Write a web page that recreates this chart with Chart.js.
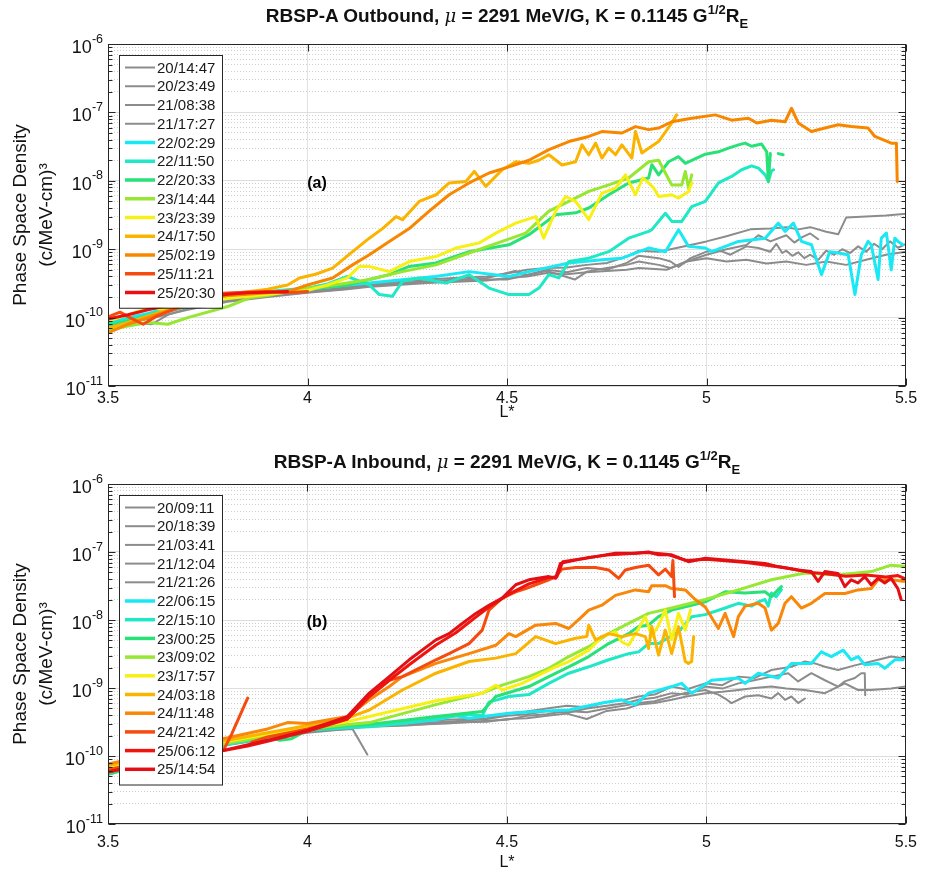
<!DOCTYPE html>
<html><head><meta charset="utf-8">
<script src="https://cdn.jsdelivr.net/npm/chart.js@4.4.1/dist/chart.umd.min.js"></script>
<style>
html,body{margin:0;padding:0;background:#fff;}
#wrap{position:relative;width:926px;height:873px;overflow:hidden;font-family:"Liberation Sans",Arial,Helvetica,sans-serif;}
canvas{position:absolute;left:0;}
.ttl{position:absolute;left:108px;width:798px;text-align:center;font-weight:bold;font-size:19px;line-height:22px;color:#111;white-space:nowrap;z-index:2;}
.ttl .mu{font-weight:normal;font-style:italic;font-family:"DejaVu Serif",serif;font-size:18px;}
.ttl sup{font-size:13px;vertical-align:8px;line-height:0;}
.ttl sub{font-size:13px;vertical-align:-6px;line-height:0;}
</style></head>
<body><div id="wrap">
<div class="ttl" style="top:5px">RBSP-A Outbound, <span class="mu">μ</span> = 2291 MeV/G, K = 0.1145 G<sup>1/2</sup>R<sub>E</sub></div>
<div class="ttl" style="top:451px">RBSP-A Inbound, <span class="mu">μ</span> = 2291 MeV/G, K = 0.1145 G<sup>1/2</sup>R<sub>E</sub></div>
<canvas id="cA" width="926" height="436" style="top:0px"></canvas>
<canvas id="cB" width="926" height="437" style="top:436px"></canvas>
</div>
<script>
// ---------- axis ticks ----------
const X_TICKS = [3.5, 4, 4.5, 5, 5.5];
const X_TICK_LABELS = ['3.5', '4', '4.5', '5', '5.5'];
const Y_DECADES = [1e-11, 1e-10, 1e-9, 1e-8, 1e-7, 1e-6];
const Y_TICK_BASE = '10';
const Y_TICK_EXP = ['-11', '-10', '-9', '-8', '-7', '-6'];
const Y_TITLE = ['Phase Space Density', '(c/MeV-cm)³'];
const X_TITLE = 'L*';

// ---------- panel (a): outbound ----------
const A_LABELS = ['20/14:47','20/23:49','21/08:38','21/17:27','22/02:29','22/11:50','22/20:33','23/14:44','23/23:39','24/17:50','25/02:19','25/11:21','25/20:30'];
const A_COLORS = ['rgb(140,140,140)','rgb(140,140,140)','rgb(140,140,140)','rgb(140,140,140)','rgb(25,232,245)','rgb(30,232,198)','rgb(40,226,120)','rgb(150,230,50)','rgb(246,240,20)','rgb(250,180,0)','rgb(248,135,0)','rgb(245,75,15)','rgb(235,15,15)'];

const A_201447 = [[3.5,8.5e-11],[3.55,9.5e-11],[3.6,1.05e-10],[3.65,1.2e-10],[3.7,1.45e-10],[3.75,1.65e-10],[3.8,1.85e-10],[3.85,2.0e-10],[3.9,2.15e-10],[3.95,2.3e-10],[4.0,2.45e-10],[4.05,2.6e-10],[4.1,2.8e-10],[4.15,3.1e-10],[4.2,3.3e-10],[4.3,3.6e-10],[4.4,3.9e-10],[4.45,4.0e-10],[4.5,4.4e-10],[4.55,5.0e-10],[4.6,5.3e-10],[4.65,5.4e-10],[4.7,5.9e-10],[4.75,6.3e-10],[4.8,7.8e-10],[4.83,9.5e-10],[4.88,9.2e-10],[4.91,1.0e-9],[4.96,1.15e-9],[5.0,1.3e-9],[5.05,1.55e-9],[5.11,1.95e-9],[5.16,2.0e-9],[5.2,2.1e-9],[5.23,1.95e-9],[5.26,2.1e-9],[5.3,1.8e-9],[5.33,1.65e-9],[5.35,2.9e-9],[5.4,3.0e-9],[5.45,3.1e-9],[5.5,3.3e-9]];
const A_202349 = [[3.5,9e-11],[3.55,1.0e-10],[3.6,1.1e-10],[3.65,1.3e-10],[3.7,1.5e-10],[3.8,1.8e-10],[3.9,2.1e-10],[4.0,2.4e-10],[4.1,2.7e-10],[4.15,3.0e-10],[4.3,3.4e-10],[4.45,3.8e-10],[4.52,4.8e-10],[4.55,4.2e-10],[4.6,5.0e-10],[4.65,4.6e-10],[4.7,5.3e-10],[4.75,5.0e-10],[4.8,6.3e-10],[4.83,8.0e-10],[4.88,7.4e-10],[4.91,6.6e-10],[4.93,5.5e-10],[4.96,7.4e-10],[5.0,9.2e-10],[5.03,9.7e-10],[5.06,8.3e-10],[5.1,1.1e-9],[5.13,1.04e-9],[5.16,9.2e-10],[5.175,1.2e-9],[5.19,8.8e-10],[5.2,9.5e-10],[5.215,8.0e-10],[5.23,9.0e-10],[5.245,7.4e-10],[5.26,8.3e-10],[5.28,7.0e-10],[5.3,9.5e-10],[5.32,8.3e-10],[5.34,1.0e-9],[5.36,8.8e-10],[5.38,1.1e-9],[5.4,9.2e-10],[5.42,1.2e-9],[5.44,1.0e-9],[5.46,1.3e-9],[5.48,1.05e-9],[5.5,1.2e-9]];
const A_210838 = [[3.5,8e-11],[3.55,8.5e-11],[3.61,8e-11],[3.65,1.1e-10],[3.7,1.35e-10],[3.8,1.75e-10],[3.9,2.05e-10],[4.0,2.35e-10],[4.1,2.65e-10],[4.15,2.9e-10],[4.3,3.3e-10],[4.45,3.6e-10],[4.5,3.6e-10],[4.55,4.2e-10],[4.6,4.8e-10],[4.67,3.6e-10],[4.7,4.7e-10],[4.75,5.3e-10],[4.8,5.9e-10],[4.83,6.6e-10],[4.88,5.9e-10],[4.91,5.3e-10],[4.95,6.6e-10],[5.0,7.4e-10],[5.05,6.6e-10],[5.1,7.0e-10],[5.15,6.2e-10],[5.2,6.6e-10],[5.25,5.9e-10],[5.3,6.6e-10],[5.35,5.9e-10],[5.4,7.0e-10],[5.45,8.3e-10],[5.5,9.2e-10]];
const A_211727 = [[3.5,7.5e-11],[3.6,9.5e-11],[3.7,1.3e-10],[3.8,1.7e-10],[3.9,2.0e-10],[4.0,2.3e-10],[4.1,2.6e-10],[4.15,2.8e-10],[4.3,3.2e-10],[4.45,3.5e-10],[4.5,3.8e-10],[4.55,4.0e-10],[4.6,4.5e-10],[4.65,4.3e-10],[4.7,4.6e-10],[4.75,4.8e-10],[4.8,5.0e-10],[4.83,5.3e-10],[4.9,5.0e-10],[4.95,6.6e-10],[5.0,8.3e-10],[5.05,1.0e-9],[5.1,1.15e-9],[5.13,1.6e-9],[5.16,1.3e-9],[5.2,1.6e-9],[5.22,1.25e-9],[5.24,1.5e-9],[5.26,1.7e-9],[5.28,1.4e-9]];
const A_220229 = [[3.5,9e-11],[3.55,1.0e-10],[3.6,1.15e-10],[3.7,1.6e-10],[3.8,2.0e-10],[3.9,2.3e-10],[4.0,2.6e-10],[4.1,3.0e-10],[4.155,3.2e-10],[4.32,4.0e-10],[4.405,4.7e-10],[4.505,4.0e-10],[4.555,4.7e-10],[4.655,6.3e-10],[4.738,7.0e-10],[4.788,7.4e-10],[4.855,1.04e-9],[4.897,9.2e-10],[4.93,1.93e-9],[4.955,1.1e-9],[4.997,1.04e-9],[5.013,9.2e-10],[5.08,1.3e-9],[5.147,1.45e-9],[5.18,2.4e-9],[5.197,1.82e-9],[5.218,2.4e-9],[5.238,1.3e-9],[5.263,1.16e-9],[5.288,4.25e-10],[5.309,9.2e-10],[5.33,8.8e-10],[5.355,8.3e-10],[5.372,2.17e-10],[5.388,8.3e-10],[5.405,1.3e-9],[5.413,1.16e-9],[5.43,3.6e-10],[5.438,1.45e-9],[5.451,1.72e-9],[5.463,5.0e-10],[5.472,1.45e-9],[5.48,1.3e-9],[5.492,1.16e-9]];
const A_221150 = [[3.5,8e-11],[3.6,1.1e-10],[3.65,1.5e-10],[3.7,1.55e-10],[3.8,2.0e-10],[3.9,2.4e-10],[4.0,2.7e-10],[4.05,3.1e-10],[4.1,4.0e-10],[4.13,3.4e-10],[4.155,3.0e-10],[4.18,2.17e-10],[4.213,2.05e-10],[4.238,3.4e-10],[4.28,3.8e-10],[4.347,3.2e-10],[4.405,4.25e-10],[4.455,2.7e-10],[4.505,2.17e-10],[4.555,2.17e-10],[4.58,2.7e-10],[4.605,4.25e-10],[4.63,3.8e-10],[4.655,6.6e-10],[4.705,7.4e-10],[4.755,9.2e-10],[4.805,1.45e-9],[4.855,1.82e-9],[4.863,1.93e-9],[4.897,3.35e-9],[4.913,2.55e-9],[4.938,2.55e-9],[4.963,4.2e-9],[4.997,5.0e-9],[5.03,9.3e-9],[5.063,1.16e-8],[5.088,1.45e-8],[5.113,1.65e-8],[5.13,1.53e-8],[5.147,1.22e-8],[5.155,9.8e-9],[5.163,1.4e-8],[5.168,1.45e-8]];
const A_222033 = [[3.5,7.5e-11],[3.6,1.05e-10],[3.7,1.5e-10],[3.8,1.9e-10],[3.9,2.3e-10],[4.0,2.6e-10],[4.1,3.0e-10],[4.155,3.6e-10],[4.205,4.25e-10],[4.255,5.6e-10],[4.322,6.3e-10],[4.405,9.2e-10],[4.505,1.16e-9],[4.555,1.63e-9],[4.622,3.2e-9],[4.672,3.4e-9],[4.705,4.0e-9],[4.755,6.25e-9],[4.805,9.3e-9],[4.855,1.1e-8],[4.863,1.72e-8],[4.88,1.22e-8],[4.905,1.9e-8],[4.93,2.25e-8],[4.947,1.8e-8],[4.997,2.45e-8],[5.03,2.65e-8],[5.055,3.0e-8],[5.08,3.35e-8],[5.097,3.55e-8],[5.113,3.2e-8],[5.138,3.45e-8],[5.151,2.65e-8],[5.155,9.8e-9],[5.16,2.5e-8],[5.165,null],[5.18,2.5e-8],[5.192,2.4e-8]];
const A_231444 = [[3.5,6.5e-11],[3.55,7.5e-11],[3.6,8.5e-11],[3.65,8e-11],[3.7,1.0e-10],[3.8,1.45e-10],[3.855,1.95e-10],[3.9,2.1e-10],[3.98,2.6e-10],[4.05,2.9e-10],[4.1,3.2e-10],[4.155,3.6e-10],[4.238,4.7e-10],[4.322,5.9e-10],[4.405,8.8e-10],[4.488,1.3e-9],[4.547,1.72e-9],[4.605,3.6e-9],[4.655,5.0e-9],[4.705,7.0e-9],[4.755,8.7e-9],[4.805,1.1e-8],[4.855,1.9e-8],[4.88,2.0e-8],[4.913,8.7e-9],[4.938,8.7e-9],[4.947,1.37e-8],[4.955,7.8e-9],[4.963,1.22e-8]];
const A_232339 = [[3.5,9e-11],[3.55,1.1e-10],[3.605,1.38e-10],[3.65,1.3e-10],[3.7,1.6e-10],[3.8,1.9e-10],[3.9,2.2e-10],[4.0,2.5e-10],[4.05,3.0e-10],[4.1,3.8e-10],[4.13,5.6e-10],[4.155,5.6e-10],[4.205,4.7e-10],[4.255,6.6e-10],[4.322,7.8e-10],[4.372,1.04e-9],[4.43,1.23e-9],[4.472,1.72e-9],[4.522,2.4e-9],[4.572,3.0e-9],[4.592,1.45e-9],[4.622,3.6e-9],[4.647,5.9e-9],[4.672,5.0e-9],[4.705,2.7e-9],[4.738,6.6e-9],[4.772,7.8e-9],[4.797,1.22e-8],[4.822,6.25e-9],[4.84,1.1e-8],[4.855,9.3e-9],[4.868,7.8e-9],[4.88,5.9e-9],[4.913,6.25e-9],[4.93,5.6e-9],[4.955,7.0e-9],[4.963,9.3e-9]];
const A_241750 = [[3.5,7e-11],[3.55,8.5e-11],[3.6,1.05e-10],[3.7,1.6e-10],[3.8,2.2e-10],[3.9,2.6e-10],[3.95,3.0e-10],[3.98,3.8e-10],[4.02,4.3e-10],[4.063,5.3e-10],[4.113,9.2e-10],[4.155,1.45e-9],[4.188,2.0e-9],[4.222,3.0e-9],[4.238,2.7e-9],[4.28,5.0e-9],[4.322,6.25e-9],[4.355,9.3e-9],[4.397,9.8e-9],[4.418,1.37e-8],[4.447,8.3e-9],[4.488,1.45e-8],[4.522,1.9e-8],[4.555,1.8e-8],[4.58,2.0e-8],[4.605,2.4e-8],[4.638,1.7e-8],[4.672,1.9e-8],[4.688,3.35e-8],[4.705,2.4e-8],[4.722,3.55e-8],[4.738,2.15e-8],[4.755,3.0e-8],[4.772,2.4e-8],[4.788,3.35e-8],[4.813,2.15e-8],[4.822,5.25e-8],[4.838,2.55e-8],[4.855,3.0e-8],[4.88,3.75e-8],[4.913,7.0e-8],[4.925,9.2e-8]];
const A_250219 = [[3.5,6e-11],[3.55,8e-11],[3.6,1.0e-10],[3.65,1.25e-10],[3.7,1.55e-10],[3.75,1.9e-10],[3.8,2.1e-10],[3.85,2.2e-10],[3.9,2.3e-10],[3.96,2.5e-10],[4.0,3.0e-10],[4.063,3.8e-10],[4.113,5.9e-10],[4.155,8.3e-10],[4.205,1.3e-9],[4.255,2.0e-9],[4.305,3.6e-9],[4.355,6.25e-9],[4.405,9.3e-9],[4.455,1.3e-8],[4.505,1.6e-8],[4.555,2.0e-8],[4.605,2.85e-8],[4.655,3.75e-8],[4.705,4.45e-8],[4.738,5.25e-8],[4.788,5.0e-8],[4.822,6.2e-8],[4.855,5.6e-8],[4.88,5.9e-8],[4.913,7.3e-8],[4.963,8.2e-8],[5.022,9.2e-8],[5.063,7.7e-8],[5.105,8.2e-8],[5.126,7.0e-8],[5.163,7.7e-8],[5.197,7.3e-8],[5.213,1.15e-7],[5.23,7.0e-8],[5.263,5.25e-8],[5.297,5.9e-8],[5.33,6.6e-8],[5.363,6.2e-8],[5.405,5.9e-8],[5.422,4.45e-8],[5.463,3.55e-8],[5.476,3.55e-8],[5.478,9.8e-9]];
const A_251121 = [[3.5,1.0e-10],[3.505,1.05e-10],[3.53,1.2e-10],[3.555,1.0e-10],[3.588,8e-11],[3.622,1.05e-10],[3.672,1.38e-10],[3.73,2.17e-10],[3.813,2.3e-10],[3.897,2.4e-10],[3.947,2.3e-10],[4.0,2.4e-10]];
const A_252030 = [[3.5,9.5e-11],[3.55,1.1e-10],[3.6,1.3e-10],[3.65,1.5e-10],[3.7,1.8e-10],[3.75,2.0e-10],[3.8,2.2e-10],[3.85,2.3e-10],[3.9,2.35e-10],[3.95,2.4e-10]];
const A_SERIES = [A_201447,A_202349,A_210838,A_211727,A_220229,A_221150,A_222033,A_231444,A_232339,A_241750,A_250219,A_251121,A_252030];

// ---------- panel (b): inbound ----------
const B_LABELS = ['20/09:11','20/18:39','21/03:41','21/12:04','21/21:26','22/06:15','22/15:10','23/00:25','23/09:02','23/17:57','24/03:18','24/11:48','24/21:42','25/06:12','25/14:54'];
const B_COLORS = ['rgb(140,140,140)','rgb(140,140,140)','rgb(140,140,140)','rgb(140,140,140)','rgb(140,140,140)','rgb(25,232,245)','rgb(30,232,198)','rgb(40,226,120)','rgb(150,232,50)','rgb(248,240,20)','rgb(250,180,0)','rgb(248,135,10)','rgb(245,75,15)','rgb(240,20,15)','rgb(228,15,20)'];

const B_200911 = [[3.5,6.2e-11],[3.6,8.2e-11],[3.7,1.12e-10],[3.8,1.5e-10],[3.9,1.85e-10],[4.0,2.3e-10],[4.05,2.4e-10],[4.113,2.5e-10],[4.15,1.05e-10]];
const B_201839 = [[3.5,6.6e-11],[3.6,8.8e-11],[3.7,1.18e-10],[3.8,1.55e-10],[3.9,1.95e-10],[4.0,2.4e-10],[4.1,2.7e-10],[4.155,3.0e-10],[4.25,3.2e-10],[4.35,3.4e-10],[4.45,3.6e-10],[4.5,4.2e-10],[4.55,4.5e-10],[4.6,5.0e-10],[4.65,5.5e-10],[4.7,5.2e-10],[4.75,6.2e-10],[4.8,6.8e-10],[4.83,7.5e-10],[4.87,8.0e-10],[4.913,1.05e-9],[4.95,9.5e-10],[4.997,1.17e-9],[5.04,1.1e-9],[5.08,1.47e-9],[5.12,1.4e-9],[5.163,1.84e-9],[5.213,2.05e-9],[5.247,2.45e-9],[5.272,2.3e-9],[5.297,2.05e-9],[5.33,1.84e-9],[5.372,2.15e-9],[5.413,2.45e-9],[5.463,2.9e-9],[5.493,2.75e-9],[5.5,2.8e-9]];
const B_210341 = [[3.5,5.6e-11],[3.6,7.8e-11],[3.7,1.08e-10],[3.8,1.45e-10],[3.9,1.8e-10],[4.0,2.25e-10],[4.1,2.6e-10],[4.155,2.9e-10],[4.25,3.0e-10],[4.35,3.2e-10],[4.45,3.5e-10],[4.5,3.9e-10],[4.55,4.1e-10],[4.6,4.6e-10],[4.65,4.3e-10],[4.7,5.0e-10],[4.75,5.5e-10],[4.8,6.0e-10],[4.83,6.7e-10],[4.87,7.2e-10],[4.913,8.4e-10],[4.95,8.0e-10],[4.997,1.05e-9],[5.04,9.8e-10],[5.08,1.17e-9],[5.12,1.3e-9],[5.163,1.47e-9],[5.205,1.65e-9],[5.23,1.25e-9],[5.263,1.65e-9],[5.297,1.3e-9],[5.33,1.05e-9],[5.347,1.25e-9],[5.372,1.4e-9],[5.388,1.65e-9],[5.397,1.65e-9],[5.398,7.8e-10]];
const B_211204 = [[3.5,5.9e-11],[3.6,8.0e-11],[3.7,1.1e-10],[3.8,1.47e-10],[3.9,1.83e-10],[4.0,2.2e-10],[4.1,2.5e-10],[4.155,2.8e-10],[4.25,2.85e-10],[4.35,3.0e-10],[4.45,3.3e-10],[4.5,3.4e-10],[4.55,3.9e-10],[4.6,4.1e-10],[4.65,4.6e-10],[4.7,4.4e-10],[4.75,5.0e-10],[4.8,5.6e-10],[4.83,6.0e-10],[4.87,6.4e-10],[4.913,7.5e-10],[4.95,8.5e-10],[4.997,9.35e-10],[5.03,8.0e-10],[5.047,7.0e-10],[5.063,6.0e-10],[5.097,7.5e-10],[5.13,7.8e-10],[5.163,7.0e-10],[5.18,8.4e-10],[5.197,6.7e-10],[5.213,7.5e-10],[5.23,6.0e-10],[5.247,7.0e-10]];
const B_212126 = [[3.5,6.3e-11],[3.6,8.4e-11],[3.7,1.14e-10],[3.8,1.52e-10],[3.9,1.88e-10],[4.0,2.3e-10],[4.1,2.55e-10],[4.155,2.7e-10],[4.25,2.8e-10],[4.35,3.1e-10],[4.45,3.2e-10],[4.5,3.5e-10],[4.55,3.6e-10],[4.6,3.9e-10],[4.65,4.2e-10],[4.7,3.5e-10],[4.75,4.6e-10],[4.8,5.0e-10],[4.83,5.7e-10],[4.87,6.0e-10],[4.913,6.7e-10],[4.95,7.5e-10],[4.997,8.4e-10],[5.04,8.8e-10],[5.08,9.35e-10],[5.12,1.0e-9],[5.163,1.05e-9],[5.2,9.8e-10],[5.247,9.35e-10],[5.297,8.4e-10],[5.347,1.17e-9],[5.38,9.35e-10],[5.413,9.35e-10],[5.463,9.8e-10],[5.5,1.05e-9]];
const B_220615 = [[3.5,5.8e-11],[3.6,8.2e-11],[3.7,1.12e-10],[3.8,1.5e-10],[3.9,1.9e-10],[4.0,2.4e-10],[4.1,2.8e-10],[4.155,3.0e-10],[4.238,3.0e-10],[4.322,3.4e-10],[4.372,3.9e-10],[4.405,3.6e-10],[4.505,4.25e-10],[4.572,4.5e-10],[4.655,4.75e-10],[4.738,6.0e-10],[4.788,6.7e-10],[4.822,5.7e-10],[4.855,8.4e-10],[4.913,1.05e-9],[4.938,1.17e-9],[4.963,8.4e-10],[5.013,1.3e-9],[5.08,1.4e-9],[5.097,1.17e-9],[5.13,1.65e-9],[5.18,1.4e-9],[5.213,2.3e-9],[5.263,2.3e-9],[5.288,3.4e-9],[5.313,2.9e-9],[5.343,3.6e-9],[5.363,2.6e-9],[5.38,2.9e-9],[5.397,2.2e-9],[5.43,2.3e-9],[5.447,1.95e-9],[5.472,2.6e-9],[5.493,2.6e-9]];
const B_221510 = [[3.5,5.4e-11],[3.6,7.8e-11],[3.7,1.08e-10],[3.8,1.5e-10],[3.9,1.85e-10],[4.0,2.4e-10],[4.1,2.6e-10],[4.155,2.7e-10],[4.238,3.0e-10],[4.322,3.6e-10],[4.405,4.1e-10],[4.438,3.9e-10],[4.455,6.2e-10],[4.505,7.5e-10],[4.555,8.0e-10],[4.605,1.17e-9],[4.655,1.65e-9],[4.705,2.05e-9],[4.755,2.6e-9],[4.805,3.2e-9],[4.83,3.4e-9],[4.855,4.5e-9],[4.88,4.5e-9],[4.93,6.7e-9],[4.963,1.12e-8],[4.997,1.2e-8],[5.047,1.5e-8],[5.08,1.76e-8],[5.113,1.6e-8],[5.13,1.85e-8],[5.147,2.0e-8],[5.155,1.6e-8],[5.163,2.5e-8],[5.175,2.2e-8],[5.188,2.8e-8]];
const B_230025 = [[3.5,5.4e-11],[3.6,7.8e-11],[3.7,1.12e-10],[3.8,1.55e-10],[3.9,1.95e-10],[3.93,1.7e-10],[3.96,1.8e-10],[4.0,2.4e-10],[4.1,2.8e-10],[4.155,2.9e-10],[4.322,3.8e-10],[4.438,4.5e-10],[4.472,7.5e-10],[4.555,1.05e-9],[4.605,1.47e-9],[4.655,2.05e-9],[4.705,2.9e-9],[4.755,4.5e-9],[4.805,6.3e-9],[4.83,8.0e-9],[4.855,8.4e-9],[4.88,1.12e-8],[4.913,1.4e-8],[4.963,1.65e-8],[4.997,1.85e-8],[5.047,2.6e-8],[5.097,2.5e-8],[5.147,2.6e-8],[5.163,2.2e-8],[5.18,2.8e-8],[5.188,3.1e-8]];
const B_230902 = [[3.5,6.2e-11],[3.6,8.8e-11],[3.7,1.18e-10],[3.8,1.55e-10],[3.9,1.95e-10],[4.0,2.5e-10],[4.1,2.9e-10],[4.155,3.1e-10],[4.322,5.7e-10],[4.438,8.4e-10],[4.488,1.1e-9],[4.555,1.47e-9],[4.605,1.95e-9],[4.655,2.9e-9],[4.705,4.05e-9],[4.755,6.3e-9],[4.805,8.9e-9],[4.855,1.25e-8],[4.913,1.5e-8],[4.997,2.0e-8],[5.08,2.77e-8],[5.163,3.9e-8],[5.247,4.9e-8],[5.33,4.6e-8],[5.413,5.15e-8],[5.463,6.4e-8],[5.5,6.1e-8]];
const B_231757 = [[3.5,6.8e-11],[3.6,9.2e-11],[3.7,1.28e-10],[3.74,1.8e-10],[3.77,1.6e-10],[3.8,1.65e-10],[3.9,2.1e-10],[4.0,2.6e-10],[4.1,3.2e-10],[4.155,3.8e-10],[4.322,6.5e-10],[4.438,8.4e-10],[4.472,1.1e-9],[4.488,9.35e-10],[4.538,1.17e-9],[4.572,1.47e-9],[4.622,2.05e-9],[4.655,2.45e-9],[4.705,3.6e-9],[4.738,5.7e-9],[4.772,6.7e-9],[4.788,4.75e-9],[4.805,4.25e-9],[4.822,6.3e-9],[4.847,1.12e-8],[4.863,5.7e-9],[4.88,8.4e-9],[4.897,1.4e-8],[4.913,5.1e-9],[4.93,1.25e-8],[4.947,7.1e-9],[4.96,1.4e-8]];
const B_240318 = [[3.5,7.2e-11],[3.6,9.8e-11],[3.7,1.32e-10],[3.8,1.7e-10],[3.9,2.2e-10],[4.0,2.8e-10],[4.1,3.6e-10],[4.155,4.75e-10],[4.238,9.35e-10],[4.322,1.65e-9],[4.405,2.45e-9],[4.472,2.75e-9],[4.522,3.2e-9],[4.572,5.7e-9],[4.622,4.5e-9],[4.672,5.4e-9],[4.7,5.7e-9],[4.705,8.4e-9],[4.722,5.1e-9],[4.755,6.3e-9],[4.788,5.7e-9],[4.822,6.3e-9],[4.847,5.7e-9],[4.855,3.8e-9],[4.863,8e-9],[4.88,3.05e-9],[4.897,7.1e-9],[4.913,3.2e-9],[4.93,8e-9],[4.947,2.45e-9],[4.955,2.3e-9],[4.963,2.45e-9],[4.968,5.7e-9]];
const B_241148 = [[3.5,7.6e-11],[3.6,1.02e-10],[3.7,1.42e-10],[3.8,1.85e-10],[3.9,2.5e-10],[3.95,3.1e-10],[4.0,3.0e-10],[4.1,3.8e-10],[4.155,6.7e-10],[4.205,1.05e-9],[4.238,1.47e-9],[4.322,2.3e-9],[4.405,3.2e-9],[4.472,4.25e-9],[4.505,6.3e-9],[4.522,5.7e-9],[4.572,8.4e-9],[4.622,8.9e-9],[4.655,7.5e-9],[4.688,1.12e-8],[4.705,1.4e-8],[4.738,1.65e-8],[4.772,2.3e-8],[4.822,2.77e-8],[4.855,2.6e-8],[4.863,3.2e-8],[4.897,3.2e-8],[4.913,2.9e-8],[4.947,2.77e-8],[4.972,2.0e-8],[4.997,1.55e-8],[5.03,7.5e-9],[5.047,1.25e-8],[5.068,5.7e-9],[5.08,1.12e-8],[5.097,1.6e-8],[5.13,1.76e-8],[5.147,1.5e-8],[5.163,7.1e-9],[5.18,8.9e-9],[5.197,1.76e-8],[5.213,2.2e-8],[5.238,1.5e-8],[5.263,1.76e-8],[5.297,2.45e-8],[5.347,2.45e-8],[5.38,2.77e-8],[5.413,2.9e-8],[5.43,3.9e-8],[5.463,3.9e-8],[5.493,3.7e-8],[5.5,3.7e-8]];
const B_242142 = [[3.5,6.2e-11],[3.6,8.8e-11],[3.7,1.12e-10],[3.79,1.23e-10],[3.81,2.1e-10],[3.85,7.1e-10],[3.855,null],[3.86,1.6e-10],[3.9,1.9e-10],[4.0,2.5e-10],[4.1,3.5e-10],[4.155,7.5e-10],[4.205,1.3e-9],[4.238,1.47e-9],[4.322,2.6e-9],[4.355,3.2e-9],[4.405,4.5e-9],[4.438,7.1e-9],[4.455,1.4e-8],[4.488,2.1e-8],[4.522,2.6e-8],[4.547,2.9e-8],[4.572,3.3e-8],[4.605,3.9e-8],[4.622,4.35e-8],[4.638,5.6e-8],[4.672,5.9e-8],[4.722,5.9e-8],[4.755,5.45e-8],[4.78,4.1e-8],[4.797,5.45e-8],[4.822,5.9e-8],[4.855,6.4e-8],[4.88,4.6e-8],[4.897,5.6e-8],[4.913,4.35e-8],[4.916,7.5e-8],[4.92,2.2e-8]];
const B_250612 = [[3.5,5.8e-11],[3.6,7.8e-11],[3.7,1.03e-10],[3.79,1.2e-10],[3.85,1.4e-10],[3.9,1.65e-10],[4.0,2.3e-10],[4.1,3.5e-10],[4.155,7.5e-10],[4.205,1.3e-9],[4.255,2.2e-9],[4.322,4.3e-9],[4.372,6.5e-9],[4.422,1.1e-8],[4.455,1.55e-8],[4.505,2.4e-8],[4.555,3.4e-8],[4.605,4.2e-8],[4.625,4.3e-8],[4.64,7.2e-8],[4.7,8.2e-8],[4.75,9.0e-8],[4.8,9.4e-8],[4.85,9.8e-8],[4.9,9.3e-8],[4.95,7.5e-8],[5.0,7.8e-8],[5.1,7.0e-8],[5.2,5.8e-8],[5.263,5.0e-8],[5.3,4.8e-8],[5.35,4.4e-8],[5.4,4.6e-8],[5.45,4.3e-8],[5.48,4.5e-8],[5.5,4.0e-8]];
const B_251454 = [[3.5,5.8e-11],[3.6,7.8e-11],[3.7,1.03e-10],[3.8,1.25e-10],[3.9,1.7e-10],[4.0,2.4e-10],[4.1,3.8e-10],[4.155,8.4e-10],[4.205,1.47e-9],[4.255,2.6e-9],[4.322,5.1e-9],[4.355,6.3e-9],[4.388,8.9e-9],[4.422,1.25e-8],[4.455,1.65e-8],[4.488,2.1e-8],[4.522,3.3e-8],[4.555,3.9e-8],[4.605,4.35e-8],[4.622,4.1e-8],[4.634,6.8e-8],[4.672,7.6e-8],[4.722,8.55e-8],[4.772,9.6e-8],[4.822,9.6e-8],[4.855,1.0e-7],[4.88,9.1e-8],[4.913,9.1e-8],[4.955,7.2e-8],[4.997,8.1e-8],[5.047,7.6e-8],[5.097,7.2e-8],[5.147,6.8e-8],[5.18,6.1e-8],[5.23,5.45e-8],[5.263,5.15e-8],[5.28,3.7e-8],[5.297,5.15e-8],[5.33,4.85e-8],[5.347,3.1e-8],[5.363,3.9e-8],[5.38,3.5e-8],[5.397,4.35e-8],[5.413,3.3e-8],[5.43,4.1e-8],[5.447,3.5e-8],[5.463,4.1e-8],[5.48,2.9e-8],[5.488,2.0e-8]];
const B_SERIES = [B_200911,B_201839,B_210341,B_211204,B_212126,B_220615,B_221510,B_230025,B_230902,B_231757,B_240318,B_241148,B_242142,B_250612,B_251454];

// ---------- rendering ----------
const FONT = '"Liberation Sans", Arial, Helvetica, sans-serif';
const GRAY = 'rgb(140,140,140)';
const AXIS = '#262626';
function isDecade(v){ const l = Math.log10(v); return Math.abs(l - Math.round(l)) < 1e-6; }
const Y_GRID = [];
for (let e = -11; e < -6; e++) for (let m = 1; m < 10; m++) Y_GRID.push(m * Math.pow(10, e));
Y_GRID.push(1e-6);

function overlay(cfg){
  return {
    id: 'overlay' + cfg.tag,
    afterDatasetsDraw(chart){
      const {ctx, chartArea: a, scales: {x, y}} = chart;
      const L = Math.round(a.left) + 0.5, R = Math.round(a.right) - 0.5;
      const T = Math.round(a.top) + 0.5, B = Math.round(a.bottom) - 0.5;
      ctx.save();
      ctx.strokeStyle = AXIS; ctx.lineWidth = 1;
      ctx.strokeRect(L, T, R - L, B - T);
      ctx.beginPath();
      Y_GRID.forEach(v => {
        const py = Math.round(y.getPixelForValue(v)) + 0.5;
        const len = isDecade(v) ? 7 : 4;
        ctx.moveTo(L, py); ctx.lineTo(L + len, py);
        ctx.moveTo(R, py); ctx.lineTo(R - len, py);
      });
      X_TICKS.forEach(v => {
        const px = Math.round(x.getPixelForValue(v)) + 0.5;
        ctx.moveTo(px, B); ctx.lineTo(px, B - 7);
        ctx.moveTo(px, T); ctx.lineTo(px, T + 7);
      });
      ctx.stroke();
      // decade tick labels: 10 with superscript exponent, placed by the y scale
      ctx.fillStyle = '#111'; ctx.textAlign = 'left'; ctx.textBaseline = 'alphabetic';
      Y_DECADES.forEach((d, i) => {
        const py = y.getPixelForValue(d);
        ctx.font = '12.5px ' + FONT;
        const we = ctx.measureText(Y_TICK_EXP[i]).width;
        ctx.font = '18px ' + FONT;
        const wb = ctx.measureText(Y_TICK_BASE).width;
        const xr = a.left - 5;
        ctx.fillText(Y_TICK_BASE, xr - we - wb, py + 9);
        ctx.font = '12.5px ' + FONT;
        ctx.fillText(Y_TICK_EXP[i], xr - we, py - 1.5);
      });
      // panel tag
      ctx.fillStyle = '#000'; ctx.font = 'bold 16px ' + FONT;
      ctx.textAlign = 'center'; ctx.textBaseline = 'middle';
      ctx.fillText(cfg.tag, 317, cfg.tagY);
      // legend box
      const lx = 119, lw = 103, n = cfg.labels.length;
      const lh = cfg.rowStep * n + 9;
      ctx.fillStyle = '#fff';
      ctx.fillRect(lx, cfg.legTop, lw, lh);
      ctx.strokeStyle = AXIS;
      ctx.strokeRect(lx + 0.5, cfg.legTop + 0.5, lw, lh);
      ctx.font = '15px ' + FONT; ctx.textAlign = 'left';
      cfg.labels.forEach((lab, i) => {
        const ry = cfg.legTop + 12.5 + i * cfg.rowStep;
        ctx.beginPath();
        ctx.strokeStyle = cfg.colors[i];
        ctx.lineWidth = cfg.colors[i] === GRAY ? 2 : 3.5;
        ctx.moveTo(125, ry); ctx.lineTo(155, ry); ctx.stroke();
        ctx.fillStyle = '#1a1a1a';
        ctx.fillText(lab, 157, ry + 1);
      });
      ctx.restore();
    }
  };
}

function makePanel(id, series, labels, colors, cfg){
  const datasets = series.map((s, i) => ({
    label: labels[i],
    data: s.map(p => ({x: p[0], y: p[1]})),
    borderColor: colors[i],
    backgroundColor: colors[i],
    borderWidth: colors[i] === GRAY ? 2 : 3,
    pointRadius: 0, pointHoverRadius: 0, tension: 0, fill: false, spanGaps: false,
    borderJoinStyle: 'round', borderCapStyle: 'round',
    order: -i
  }));
  new Chart(document.getElementById(id), {
    type: 'line',
    data: {datasets},
    options: {
      responsive: false, animation: false, devicePixelRatio: 1,
      layout: {padding: {left: 0, right: 20, top: cfg.padTop, bottom: 0}},
      plugins: {legend: {display: false}, tooltip: {enabled: false}},
      scales: {
        x: {
          type: 'linear', min: 3.5, max: 5.5,
          afterBuildTicks: s => { s.ticks = X_TICKS.map(v => ({value: v})); },
          afterFit: s => { s.height = cfg.xH; },
          ticks: {autoSkip: false, maxRotation: 0, padding: cfg.xPad, color: '#111',
                  font: {size: 16, family: FONT},
                  callback: (v, i) => X_TICK_LABELS[i]},
          grid: {drawTicks: false, lineWidth: 1,
                 color: c => (c.tick && (c.tick.value === 3.5 || c.tick.value === 5.5)) ? 'rgba(0,0,0,0)' : '#e2e2e2'},
          border: {display: false},
          title: {display: true, text: X_TITLE, color: '#111', font: {size: 16, family: FONT},
                  padding: {top: 0, bottom: cfg.xTitlePad}}
        },
        y: {
          type: 'logarithmic', min: 1e-11, max: 1e-6,
          afterBuildTicks: s => { s.ticks = Y_GRID.map(v => ({value: v})); },
          afterFit: s => { s.width = 108; },
          ticks: {autoSkip: false, padding: 6, callback: () => ''},
          grid: {drawTicks: false, lineWidth: 1,
                 color: c => (c.tick && isDecade(c.tick.value)) ? '#dedede' : '#cfcfcf'},
          border: {display: false, dash: c => (c.tick && isDecade(c.tick.value)) ? [] : [1, 2]},
          title: {display: true, text: Y_TITLE, color: '#111', font: {size: 19, family: FONT, lineHeight: 1.37},
                  padding: {top: 8, bottom: 0}}
        }
      }
    },
    plugins: [overlay(cfg)]
  });
}

makePanel('cA', A_SERIES, A_LABELS, A_COLORS,
  {tag: '(a)', tagY: 184, padTop: 44, xH: 50, xPad: 3, xTitlePad: 14, legTop: 55, rowStep: 18.75, labels: A_LABELS, colors: A_COLORS});
makePanel('cB', B_SERIES, B_LABELS, B_COLORS,
  {tag: '(b)', tagY: 187, padTop: 48, xH: 49, xPad: 9, xTitlePad: 1, legTop: 59, rowStep: 18.7, labels: B_LABELS, colors: B_COLORS});
</script>
</body></html>
